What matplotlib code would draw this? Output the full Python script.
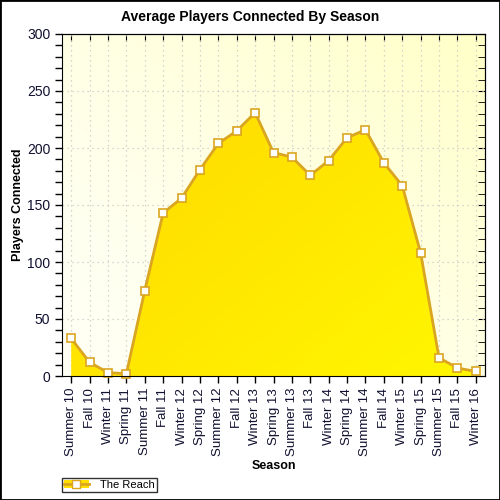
import numpy as np
import matplotlib
matplotlib.use("Agg")
import matplotlib.pyplot as plt
from matplotlib.lines import Line2D
from matplotlib.patches import Patch, Rectangle
from matplotlib.ticker import MultipleLocator, NullLocator

plt.rcParams['font.family'] = ['Liberation Sans', 'DejaVu Sans']

seasons = ["Summer 10", "Fall 10", "Winter 11", "Spring 11", "Summer 11", "Fall 11",
           "Winter 12", "Spring 12", "Summer 12", "Fall 12", "Winter 13", "Spring 13",
           "Summer 13", "Fall 13", "Winter 14", "Spring 14", "Summer 14", "Fall 14",
           "Winter 15", "Spring 15", "Summer 15", "Fall 15", "Winter 16"]
players = [33, 12, 3, 2, 75, 143, 156, 181, 204, 215, 231, 196,
           192, 176, 189, 209, 216, 187, 167, 108, 16, 7, 4]
series_name = "The Reach"

x = np.arange(len(seasons))

fig = plt.figure(figsize=(5, 5), dpi=100)
ax = fig.add_axes([0.124, 0.248, 0.846, 0.684])
ax.set_xlim(-0.5, len(seasons) - 0.5)
ax.set_ylim(0, 300)

# plot background gradient (light cream -> pale yellow to upper right)
gx, gy = np.meshgrid(np.linspace(0, 1, 200), np.linspace(0, 1, 200))
t = np.clip((gx + gy) / 2, 0, 1) ** 1.5
bg = np.zeros((200, 200, 3))
bg[..., 0] = 1.0
bg[..., 1] = 1.0
bg[..., 2] = (0.96 - 0.18 * t)
ax.imshow(bg, extent=[0, 1, 0, 1], transform=ax.transAxes, origin='lower',
          aspect='auto', zorder=0, interpolation='bilinear')

# area fill with gradient
poly = ax.fill_between(x, players, 0, color='none', zorder=2)
t2 = np.clip((gx + (1 - gy)) / 2, 0, 1)
fg = np.zeros((200, 200, 3))
fg[..., 0] = 1.0
fg[..., 1] = (0.83 + 0.14 * t2)
fg[..., 2] = 0.0
im = ax.imshow(fg, extent=[-0.5, len(seasons) - 0.5, 0, 300], origin='lower',
               aspect='auto', zorder=2, interpolation='bilinear')
im.set_clip_path(poly.get_paths()[0], transform=ax.transData)

ax.plot(x, players, color='#DAA520', lw=2, marker='s', ms=6,
        mfc='white', mec='#DAA520', mew=1.2, zorder=4, clip_on=False)

ax.set_xticks(x)
ax.set_xticklabels(seasons, rotation=90, fontsize=9.5)
ax.yaxis.set_major_locator(MultipleLocator(50))
ax.yaxis.set_minor_locator(MultipleLocator(10))
ax.tick_params(axis='y', labelsize=10, direction='out', length=5, width=1,
               labelcolor='#101030')
ax.tick_params(axis='y', which='minor', direction='out', length=5, width=1)
ax.tick_params(axis='x', direction='out', length=5, width=1, labelcolor='#101030')
ax.set_axisbelow(True)
ax.grid(True, which='major', color='#C8C8C8', linestyle=(0, (1, 3)), lw=0.9)
for s in ax.spines.values():
    s.set_zorder(5)

# right and top ticks inward
sec_y = ax.secondary_yaxis('right')
sec_y.yaxis.set_major_locator(MultipleLocator(50))
sec_y.yaxis.set_minor_locator(MultipleLocator(10))
sec_y.tick_params(which='both', direction='in', length=5, labelright=False)
sec_x = ax.secondary_xaxis('top')
sec_x.set_xticks(x)
sec_x.xaxis.set_minor_locator(NullLocator())
sec_x.tick_params(direction='in', length=5, labeltop=False)

fig.text(0.5, 0.966, "Average Players Connected By Season", ha='center', va='center',
         fontsize=10, fontweight='bold')
ax.set_ylabel("Players Connected", fontsize=9, fontweight='bold', labelpad=2)
ax.set_xlabel("Season", fontsize=9, fontweight='bold', labelpad=3)

handle = (Patch(facecolor='#FFE000', edgecolor='none'),
          Line2D([], [], color='#DAA520', lw=2, marker='s', ms=6, mfc='white', mec='#DAA520'))
leg = fig.legend([handle], [series_name], loc='lower left', bbox_to_anchor=(0.124, 0.016),
                 fontsize=8, frameon=True, fancybox=False, edgecolor='black',
                 handlelength=2.2, borderpad=0.2, handletextpad=1.0, borderaxespad=0)
leg.get_frame().set_linewidth(1)

fig.patches.append(Rectangle((0, 0), 1, 1, transform=fig.transFigure, fill=False,
                             edgecolor='black', lw=2))

fig.savefig("out.png", dpi=100)
